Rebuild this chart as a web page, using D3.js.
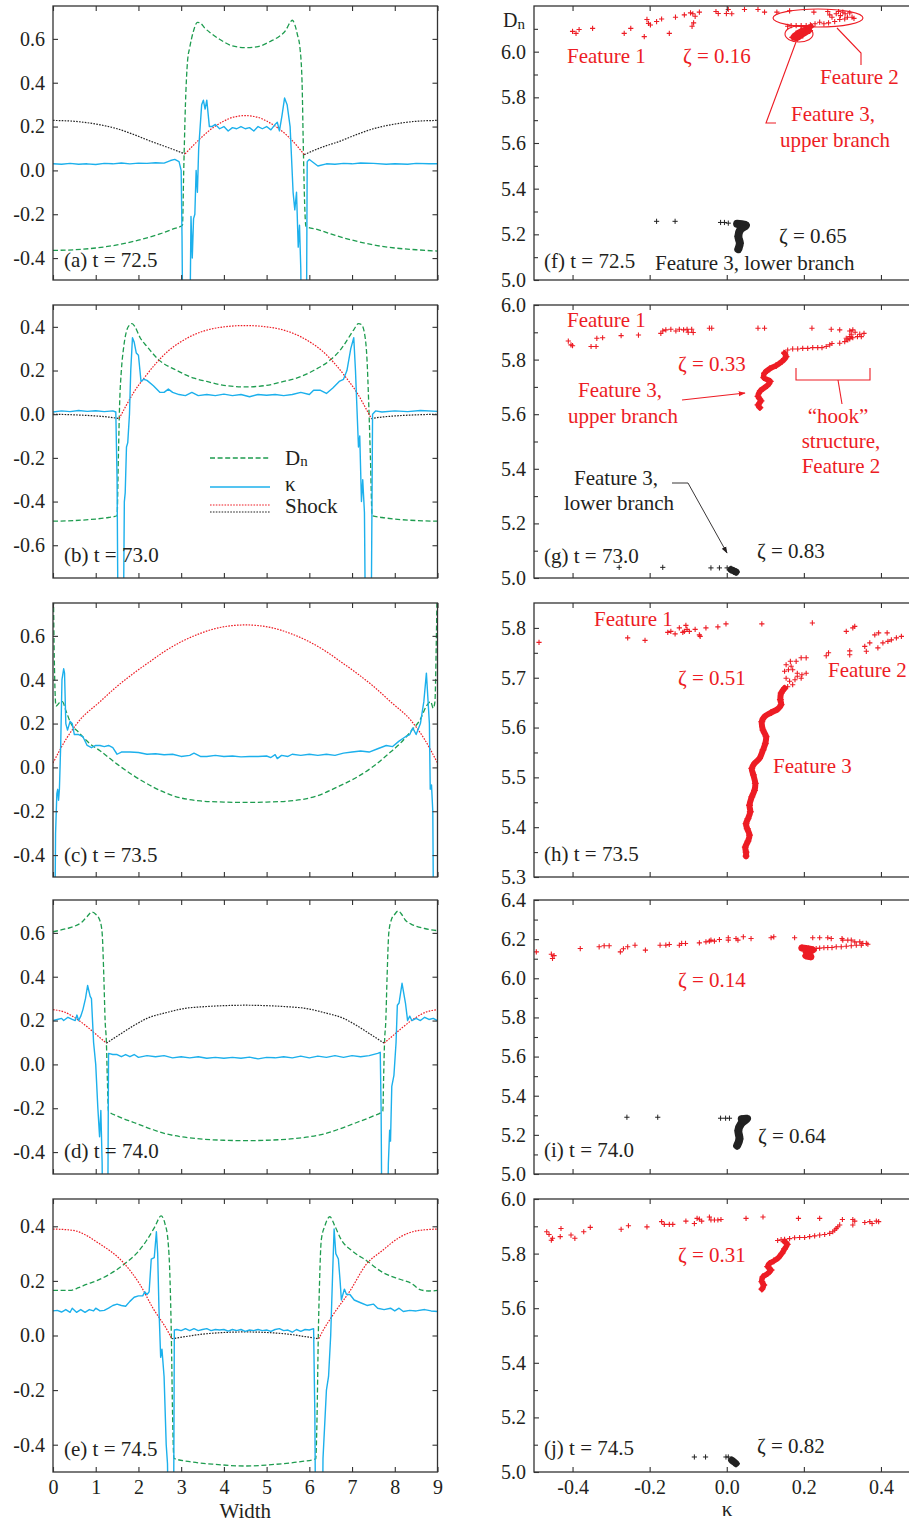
<!DOCTYPE html>
<html>
<head>
<meta charset="utf-8">
<script src="https://cdn.jsdelivr.net/npm/d3@7"></script>
<style>
  body { margin: 0; background: #fff; }
  svg { display: block; }
</style>
</head>
<body>
<svg id="fig" width="909" height="1525"></svg>
<script>
// ---------------------------------------------------------------
// Axis ticks
// ---------------------------------------------------------------
const widthTicks = [0, 1, 2, 3, 4, 5, 6, 7, 8, 9];
const kappaTicks = [-0.4, -0.2, 0.0, 0.2, 0.4];
const yTicksA = [-0.4, -0.2, 0.0, 0.2, 0.4, 0.6];
const yTicksB = [-0.6, -0.4, -0.2, 0.0, 0.2, 0.4];
const yTicksC = [-0.4, -0.2, 0.0, 0.2, 0.4, 0.6];
const yTicksD = [-0.4, -0.2, 0.0, 0.2, 0.4, 0.6];
const yTicksE = [-0.4, -0.2, 0.0, 0.2, 0.4];
const dnTicksF = [5.0, 5.2, 5.4, 5.6, 5.8, 6.0];
const dnMinorF = [5.1, 5.3, 5.5, 5.7, 5.9, 6.1];
const dnTicksG = [5.0, 5.2, 5.4, 5.6, 5.8, 6.0];
const dnMinorG = [5.1, 5.3, 5.5, 5.7, 5.9];
const dnTicksH = [5.3, 5.4, 5.5, 5.6, 5.7, 5.8];
const dnMinorH = [5.35, 5.45, 5.55, 5.65, 5.75];
const dnTicksI = [5.0, 5.2, 5.4, 5.6, 5.8, 6.0, 6.2, 6.4];
const dnMinorI = [5.1, 5.3, 5.5, 5.7, 5.9, 6.1, 6.3];
const dnTicksJ = [5.0, 5.2, 5.4, 5.6, 5.8, 6.0];
const dnMinorJ = [5.1, 5.3, 5.5, 5.7, 5.9];

// ---------------------------------------------------------------
// Profiles across the channel width: [width, value]
// ---------------------------------------------------------------
// (a) t = 72.5
const dnA = [[0,-0.365],[0.5,-0.362],[1,-0.354],[1.5,-0.34],[2,-0.318],[2.5,-0.29],[2.8,-0.268],[3.03,-0.25],[3.06,0.0],[3.1,0.3],[3.15,0.5],[3.2,0.56],[3.28,0.63],[3.38,0.675],[3.45,0.672],[3.55,0.65],[3.7,0.625],[3.9,0.598],[4.2,0.568],[4.5,0.56],[4.8,0.565],[5.1,0.59],[5.3,0.612],[5.45,0.64],[5.55,0.675],[5.6,0.685],[5.66,0.665],[5.72,0.62],[5.78,0.56],[5.83,0.4],[5.86,0.1],[5.89,-0.15],[5.92,-0.255],[6.2,-0.27],[6.5,-0.29],[7,-0.318],[7.5,-0.34],[8,-0.354],[8.5,-0.362],[9,-0.368]];
const kappaA = [[0,0.03],[0.2,0.028],[0.4,0.032],[0.6,0.028],[0.8,0.03],[1.0,0.027],[1.2,0.032],[1.4,0.03],[1.6,0.034],[1.8,0.03],[2.0,0.033],[2.2,0.032],[2.4,0.035],[2.6,0.033],[2.75,0.045],[2.85,0.05],[2.95,0.04],[3.0,0.0],[3.02,-0.3],[3.04,-0.8],[3.2,-0.8],[3.23,-0.21],[3.26,-0.4],[3.29,-0.22],[3.32,-0.2],[3.35,0.0],[3.38,-0.1],[3.41,0.1],[3.48,0.3],[3.52,0.32],[3.56,0.28],[3.6,0.32],[3.66,0.2],[3.72,0.2],[3.8,0.21],[3.9,0.19],[4.0,0.2],[4.1,0.18],[4.2,0.195],[4.3,0.19],[4.4,0.2],[4.5,0.19],[4.6,0.195],[4.7,0.18],[4.8,0.2],[4.9,0.19],[5.0,0.2],[5.1,0.185],[5.2,0.21],[5.25,0.22],[5.3,0.18],[5.36,0.25],[5.42,0.33],[5.48,0.3],[5.55,0.2],[5.62,-0.1],[5.66,-0.18],[5.7,-0.1],[5.74,-0.35],[5.77,-0.25],[5.8,-0.45],[5.82,-0.8],[5.93,-0.8],[5.95,0.04],[6.0,0.05],[6.1,0.035],[6.2,0.02],[6.4,0.03],[6.6,0.028],[6.8,0.032],[7.0,0.03],[7.2,0.034],[7.5,0.032],[7.8,0.028],[8.0,0.03],[8.3,0.028],[8.5,0.032],[8.8,0.03],[9,0.03]];
const shockRedA = [[[3.09,0.075],[3.44,0.144],[3.76,0.197],[4.0,0.225],[4.22,0.243],[4.5,0.25],[4.78,0.243],[5.0,0.225],[5.24,0.197],[5.56,0.144],[5.88,0.072]]];
const shockBlackA = [
  [[0,0.228],[0.5,0.224],[1.1,0.208],[1.5,0.19],[1.9,0.163],[2.3,0.132],[2.67,0.106],[3.09,0.075]],
  [[5.88,0.072],[6.3,0.106],[6.7,0.132],[7.1,0.163],[7.5,0.19],[7.9,0.208],[8.5,0.224],[9,0.228]]
];

// (b) t = 73.0
const dnB = [[0,-0.49],[0.5,-0.487],[1,-0.48],[1.3,-0.473],[1.5,-0.465],[1.53,-0.2],[1.56,0.05],[1.6,0.2],[1.65,0.3],[1.72,0.38],[1.8,0.41],[1.85,0.415],[1.92,0.4],[2.04,0.35],[2.2,0.31],[2.47,0.25],[2.9,0.2],[3.3,0.165],[3.6,0.15],[4.0,0.132],[4.5,0.125],[5.0,0.132],[5.4,0.15],[5.7,0.165],[6.1,0.2],[6.5,0.25],[6.75,0.3],[6.92,0.35],[7.05,0.39],[7.15,0.415],[7.22,0.41],[7.3,0.36],[7.35,0.25],[7.39,0.05],[7.43,-0.2],[7.47,-0.465],[7.7,-0.473],[8,-0.48],[8.5,-0.487],[9,-0.49]];
const kappaB = [[0,0.01],[0.2,0.015],[0.4,0.012],[0.6,0.017],[0.8,0.013],[1.0,0.016],[1.2,0.012],[1.4,0.015],[1.47,0.01],[1.5,-0.3],[1.52,-0.9],[1.65,-0.9],[1.67,-0.4],[1.69,-0.36],[1.72,-0.15],[1.75,-0.13],[1.79,0.0],[1.82,0.2],[1.86,0.35],[1.9,0.33],[1.95,0.28],[2.0,0.27],[2.06,0.15],[2.12,0.16],[2.2,0.155],[2.35,0.13],[2.5,0.1],[2.6,0.1],[2.7,0.115],[2.8,0.1],[2.95,0.09],[3.1,0.085],[3.25,0.1],[3.4,0.085],[3.6,0.09],[3.8,0.085],[4.0,0.092],[4.2,0.085],[4.4,0.09],[4.6,0.08],[4.8,0.09],[5.0,0.087],[5.2,0.09],[5.4,0.085],[5.6,0.09],[5.8,0.1],[6.0,0.09],[6.1,0.11],[6.25,0.11],[6.4,0.095],[6.55,0.12],[6.7,0.15],[6.8,0.16],[6.88,0.2],[6.97,0.3],[7.04,0.35],[7.08,0.2],[7.12,0.0],[7.15,-0.15],[7.18,-0.1],[7.22,-0.4],[7.25,-0.3],[7.29,-0.45],[7.31,-0.9],[7.45,-0.9],[7.48,0.0],[7.55,0.015],[7.7,0.01],[8.0,0.015],[8.3,0.012],[8.6,0.017],[9,0.013]];
const shockRedB = [[[1.55,-0.02],[1.7,0.035],[1.89,0.1],[2.15,0.17],[2.43,0.237],[2.7,0.29],[2.98,0.33],[3.44,0.375],[3.83,0.395],[4.5,0.406],[5.17,0.395],[5.56,0.375],[6.02,0.33],[6.3,0.29],[6.57,0.237],[6.85,0.17],[7.11,0.1],[7.3,0.035],[7.45,-0.02]]];
const shockBlackB = [
  [[0,0.0],[0.5,-0.003],[1.0,-0.008],[1.3,-0.013],[1.55,-0.02]],
  [[7.45,-0.02],[7.7,-0.013],[8.0,-0.008],[8.5,-0.003],[9,0.0]]
];

// (c) t = 73.5
const dnC = [[0.01,0.8],[0.03,0.5],[0.07,0.28],[0.15,0.295],[0.22,0.3],[0.3,0.26],[0.42,0.2],[0.6,0.16],[0.87,0.107],[1.1,0.076],[1.5,0.015],[1.89,-0.038],[2.35,-0.09],[2.82,-0.13],[3.45,-0.153],[4.0,-0.158],[4.5,-0.16],[5.0,-0.158],[5.55,-0.153],[6.18,-0.13],[6.65,-0.09],[7.11,-0.045],[7.5,0.005],[7.9,0.07],[8.13,0.11],[8.4,0.17],[8.6,0.22],[8.74,0.28],[8.84,0.3],[8.9,0.27],[8.94,0.3],[8.97,0.55],[8.99,0.8]];
const kappaC = [[0.04,-0.8],[0.06,-0.3],[0.09,-0.12],[0.11,-0.1],[0.13,-0.15],[0.15,-0.1],[0.18,0.1],[0.21,0.4],[0.25,0.45],[0.27,0.43],[0.3,0.2],[0.34,0.17],[0.4,0.21],[0.45,0.2],[0.5,0.15],[0.6,0.15],[0.7,0.14],[0.8,0.1],[0.9,0.09],[1.0,0.1],[1.1,0.1],[1.2,0.095],[1.3,0.1],[1.4,0.09],[1.5,0.06],[1.6,0.07],[1.8,0.07],[2.0,0.068],[2.2,0.06],[2.4,0.062],[2.6,0.058],[2.8,0.06],[3.0,0.05],[3.2,0.055],[3.3,0.065],[3.45,0.05],[3.6,0.05],[3.8,0.055],[4.0,0.05],[4.2,0.052],[4.4,0.048],[4.6,0.05],[4.8,0.05],[5.0,0.052],[5.1,0.045],[5.2,0.058],[5.25,0.04],[5.35,0.055],[5.5,0.05],[5.6,0.06],[5.8,0.055],[6.0,0.06],[6.2,0.055],[6.4,0.06],[6.6,0.055],[6.8,0.065],[7.0,0.07],[7.2,0.075],[7.4,0.07],[7.6,0.085],[7.8,0.1],[7.95,0.095],[8.1,0.12],[8.25,0.14],[8.35,0.15],[8.42,0.18],[8.5,0.15],[8.6,0.2],[8.68,0.3],[8.74,0.43],[8.78,0.3],[8.81,0.2],[8.83,-0.1],[8.86,-0.08],[8.89,-0.2],[8.91,-0.8]];
const shockRedC = [[[0,0.02],[0.31,0.13],[0.62,0.214],[1.09,0.298],[1.5,0.37],[1.87,0.427],[2.25,0.48],[2.65,0.534],[3.05,0.578],[3.43,0.61],[3.9,0.638],[4.5,0.65],[5.1,0.638],[5.57,0.61],[5.95,0.578],[6.35,0.534],[6.75,0.48],[7.13,0.427],[7.5,0.37],[7.91,0.298],[8.38,0.214],[8.69,0.13],[9,0.02]]];
const shockBlackC = [];

// (d) t = 74.0
const dnD = [[0,0.605],[0.33,0.62],[0.5,0.63],[0.68,0.65],[0.8,0.675],[0.91,0.695],[1.0,0.685],[1.1,0.655],[1.15,0.6],[1.19,0.4],[1.22,0.2],[1.25,0.1],[1.27,-0.05],[1.3,-0.213],[1.5,-0.235],[1.89,-0.265],[2.3,-0.295],[2.67,-0.318],[3.0,-0.33],[3.44,-0.34],[4.0,-0.346],[4.5,-0.348],[5.0,-0.346],[5.56,-0.34],[6.0,-0.33],[6.33,-0.318],[6.7,-0.295],[7.11,-0.265],[7.5,-0.235],[7.72,-0.213],[7.74,-0.05],[7.76,0.1],[7.79,0.2],[7.82,0.4],[7.86,0.6],[7.92,0.66],[8.0,0.685],[8.08,0.7],[8.16,0.685],[8.24,0.66],[8.38,0.64],[8.51,0.63],[8.7,0.62],[9,0.61]];
const kappaD = [[0,0.2],[0.1,0.205],[0.2,0.21],[0.25,0.2],[0.35,0.215],[0.45,0.205],[0.52,0.2],[0.56,0.225],[0.6,0.2],[0.65,0.22],[0.7,0.25],[0.76,0.3],[0.81,0.36],[0.87,0.31],[0.9,0.3],[0.95,0.1],[1.0,0.0],[1.05,-0.2],[1.09,-0.33],[1.12,-0.21],[1.15,-0.45],[1.17,-0.8],[1.28,-0.8],[1.3,0.05],[1.4,0.045],[1.5,0.045],[1.6,0.035],[1.7,0.045],[1.8,0.035],[1.9,0.045],[2.0,0.032],[2.2,0.04],[2.4,0.035],[2.6,0.04],[2.8,0.03],[3.0,0.035],[3.2,0.03],[3.4,0.035],[3.6,0.028],[3.8,0.032],[4.0,0.028],[4.2,0.032],[4.4,0.028],[4.6,0.033],[4.8,0.025],[5.0,0.032],[5.2,0.03],[5.4,0.035],[5.6,0.03],[5.8,0.038],[6.0,0.03],[6.2,0.038],[6.4,0.032],[6.6,0.04],[6.8,0.032],[7.0,0.04],[7.2,0.035],[7.4,0.04],[7.6,0.05],[7.66,0.055],[7.68,-0.2],[7.7,-0.8],[7.82,-0.8],[7.85,-0.45],[7.88,-0.3],[7.9,-0.35],[7.93,-0.1],[7.98,-0.05],[8.03,0.1],[8.06,0.27],[8.1,0.28],[8.17,0.37],[8.25,0.28],[8.3,0.2],[8.35,0.22],[8.4,0.2],[8.5,0.21],[8.6,0.2],[8.7,0.215],[8.8,0.205],[8.9,0.21],[9,0.2]];
const shockRedD = [
  [[0,0.25],[0.25,0.24],[0.56,0.207],[0.81,0.17],[1.05,0.13],[1.25,0.097]],
  [[7.75,0.097],[7.95,0.13],[8.19,0.17],[8.44,0.207],[8.75,0.24],[9,0.25]]
];
const shockBlackD = [[[1.25,0.097],[1.55,0.135],[1.89,0.177],[2.2,0.21],[2.67,0.237],[3.1,0.256],[3.44,0.262],[4.0,0.268],[4.5,0.27],[5.0,0.268],[5.56,0.262],[5.9,0.256],[6.33,0.237],[6.8,0.21],[7.11,0.177],[7.45,0.135],[7.75,0.097]]];

// (e) t = 74.5
const dnE = [[0,0.165],[0.39,0.165],[0.6,0.175],[0.78,0.187],[1.01,0.2],[1.33,0.225],[1.72,0.268],[1.95,0.3],[2.19,0.348],[2.38,0.397],[2.53,0.438],[2.62,0.41],[2.69,0.35],[2.74,0.2],[2.77,0.0],[2.8,-0.3],[2.83,-0.45],[3.2,-0.462],[3.8,-0.472],[4.5,-0.478],[5.2,-0.472],[5.8,-0.462],[6.15,-0.452],[6.18,-0.3],[6.21,0.0],[6.24,0.2],[6.28,0.35],[6.36,0.4],[6.48,0.435],[6.6,0.4],[6.75,0.35],[7.0,0.31],[7.34,0.274],[7.73,0.23],[8.12,0.206],[8.4,0.19],[8.59,0.168],[8.8,0.163],[9,0.165]];
const kappaE = [[0,0.09],[0.1,0.092],[0.2,0.086],[0.3,0.095],[0.4,0.085],[0.45,0.1],[0.55,0.085],[0.65,0.095],[0.75,0.085],[0.85,0.095],[0.95,0.09],[1.0,0.1],[1.1,0.09],[1.2,0.092],[1.3,0.1],[1.4,0.11],[1.5,0.115],[1.6,0.11],[1.7,0.107],[1.8,0.125],[1.9,0.14],[2.0,0.145],[2.1,0.145],[2.15,0.16],[2.2,0.15],[2.25,0.16],[2.3,0.28],[2.37,0.285],[2.42,0.38],[2.45,0.3],[2.48,0.1],[2.52,-0.08],[2.55,-0.05],[2.6,-0.15],[2.65,-0.4],[2.68,-0.47],[2.71,-0.8],[2.82,-0.8],[2.84,0.02],[2.9,0.022],[3.0,0.018],[3.1,0.025],[3.2,0.018],[3.3,0.025],[3.4,0.018],[3.5,0.022],[3.6,0.025],[3.7,0.018],[3.8,0.022],[3.9,0.02],[4.0,0.022],[4.1,0.016],[4.2,0.022],[4.3,0.018],[4.4,0.022],[4.5,0.015],[4.6,0.02],[4.7,0.018],[4.8,0.022],[4.9,0.018],[5.0,0.02],[5.1,0.015],[5.2,0.022],[5.3,0.025],[5.4,0.018],[5.5,0.02],[5.6,0.012],[5.7,0.022],[5.8,0.015],[5.9,0.022],[6.0,0.02],[6.1,0.025],[6.13,-0.3],[6.15,-0.8],[6.3,-0.8],[6.32,-0.45],[6.4,-0.2],[6.45,-0.15],[6.5,0.0],[6.55,0.25],[6.58,0.39],[6.62,0.3],[6.68,0.28],[6.72,0.2],[6.75,0.13],[6.82,0.17],[6.87,0.15],[6.95,0.15],[7.05,0.13],[7.2,0.12],[7.35,0.11],[7.5,0.115],[7.6,0.1],[7.75,0.095],[7.9,0.1],[8.0,0.09],[8.1,0.1],[8.2,0.088],[8.35,0.092],[8.5,0.09],[8.7,0.095],[8.85,0.09],[9,0.088]];
const shockRedE = [
  [[0,0.39],[0.47,0.385],[1.09,0.336],[1.64,0.268],[2.03,0.188],[2.34,0.1],[2.69,0.015],[2.78,-0.012]],
  [[6.22,-0.012],[6.31,0.015],[6.56,0.077],[6.95,0.163],[7.34,0.262],[7.7,0.31],[8.12,0.36],[8.5,0.383],[9,0.39]]
];
const shockBlackE = [[[2.78,-0.012],[3.1,-0.004],[3.5,0.005],[4.0,0.011],[4.5,0.013],[5.0,0.011],[5.5,0.005],[5.9,-0.004],[6.22,-0.012]]];

// ---------------------------------------------------------------
// Scatter of normal detonation speed against curvature: [kappa, Dn]
// ---------------------------------------------------------------
// (f) t = 72.5
const redPtsF = [[-0.400,6.089],[-0.391,6.080],[-0.383,6.097],[-0.348,6.102],[-0.266,6.080],[-0.249,6.102],[-0.214,6.066],[-0.207,6.141],[-0.203,6.124],[-0.198,6.117],[-0.182,6.132],[-0.169,6.143],[-0.149,6.080],[-0.133,6.151],[-0.110,6.161],[-0.094,6.170],[-0.088,6.166],[-0.082,6.155],[-0.086,6.126],[-0.090,6.111],[-0.071,6.173],[-0.028,6.176],[-0.022,6.167],[-0.001,6.167],[0.004,6.185],[0.013,6.166],[0.046,6.185],[0.081,6.185],[0.098,6.173],[0.130,6.173],[0.163,6.179],[0.226,6.173],[0.262,6.176],[0.267,6.161],[0.273,6.151],[0.284,6.166],[0.290,6.176],[0.295,6.158],[0.301,6.173],[0.307,6.166],[0.313,6.151],[0.319,6.170],[0.325,6.151],[0.330,6.146],[0.306,6.143],[0.293,6.141],[0.280,6.132],[0.264,6.126],[0.252,6.122],[0.241,6.129],[0.229,6.122],[0.217,6.117],[0.206,6.114],[0.193,6.114],[0.180,6.114],[0.167,6.114],[0.158,6.111]];
const redTrackF = [[[0.219,6.111],[0.206,6.100],[0.193,6.092],[0.180,6.078],[0.171,6.063],[0.183,6.058],[0.197,6.073],[0.215,6.092]]];
const blackPtsF = [[-0.182,5.257],[-0.134,5.257],[-0.016,5.252],[-0.006,5.252],[0.004,5.249]];
const blackTrackF = [[[0.027,5.246],[0.050,5.240],[0.035,5.220],[0.030,5.191],[0.034,5.161],[0.030,5.135]]];

// (g) t = 73.0
const redPtsG = [[-0.411,5.868],[-0.404,5.854],[-0.400,5.851],[-0.352,5.848],[-0.339,5.848],[-0.337,5.878],[-0.322,5.880],[-0.274,5.888],[-0.229,5.890],[-0.171,5.896],[-0.166,5.905],[-0.158,5.909],[-0.145,5.911],[-0.132,5.905],[-0.123,5.911],[-0.112,5.909],[-0.103,5.911],[-0.100,5.900],[-0.091,5.911],[-0.087,5.899],[-0.045,5.915],[-0.039,5.915],[0.081,5.915],[0.098,5.915],[0.221,5.915],[0.271,5.911],[0.293,5.909],[0.319,5.905],[0.327,5.909],[0.323,5.893],[0.333,5.900],[0.339,5.884],[0.319,5.884],[0.314,5.872],[0.310,5.878],[0.345,5.893],[0.356,5.896],[0.349,5.884],
  [0.148,5.827],[0.158,5.835],[0.171,5.839],[0.184,5.839],[0.197,5.841],[0.210,5.841],[0.223,5.844],[0.236,5.844],[0.247,5.844],[0.258,5.848],[0.267,5.854],[0.273,5.859],[0.293,5.860],[0.306,5.866],[0.319,5.876],[0.327,5.880]];
const redTrackG = [[[0.150,5.823],[0.154,5.811],[0.143,5.793],[0.128,5.778],[0.111,5.766],[0.098,5.750],[0.096,5.734],[0.113,5.720],[0.105,5.705],[0.087,5.685],[0.081,5.665],[0.089,5.649],[0.081,5.634],[0.086,5.624]]];
const blackPtsG = [[-0.279,5.039],[-0.166,5.039],[-0.041,5.037],[-0.019,5.037],[0.001,5.037]];
const blackTrackG = [[[0.011,5.031],[0.018,5.026],[0.024,5.022]]];

// (h) t = 73.5
const redPtsH = [[-0.487,5.771],[-0.257,5.780],[-0.212,5.775],[-0.153,5.791],[-0.145,5.793],[-0.134,5.788],[-0.123,5.800],[-0.114,5.791],[-0.110,5.793],[-0.106,5.805],[-0.103,5.797],[-0.097,5.793],[-0.082,5.797],[-0.071,5.786],[-0.069,5.783],[-0.054,5.800],[-0.023,5.802],[-0.002,5.808],[0.091,5.808],[0.222,5.810],[0.310,5.793],[0.327,5.800],[0.332,5.803],[0.319,5.754],[0.319,5.746],[0.258,5.744],[0.264,5.750],[0.358,5.763],[0.362,5.753],[0.371,5.770],[0.384,5.786],[0.394,5.790],[0.392,5.760],[0.405,5.770],[0.418,5.773],[0.427,5.776],[0.440,5.780],[0.453,5.783],[0.416,5.790],
  [0.154,5.726],[0.165,5.733],[0.180,5.733],[0.193,5.740],[0.206,5.740],[0.150,5.713],[0.160,5.716],[0.171,5.716],[0.183,5.709],[0.195,5.706],[0.206,5.709],[0.154,5.699],[0.163,5.693],[0.171,5.686],[0.177,5.696],[0.183,5.703],[0.193,5.699],[0.167,5.723],[0.148,5.679],[0.158,5.682]];
const redTrackH = [[[0.150,5.679],[0.141,5.669],[0.139,5.656],[0.141,5.646],[0.132,5.637],[0.115,5.630],[0.098,5.622],[0.091,5.612],[0.094,5.595],[0.102,5.582],[0.100,5.568],[0.094,5.555],[0.085,5.538],[0.072,5.528],[0.065,5.518],[0.069,5.505],[0.074,5.488],[0.072,5.474],[0.065,5.461],[0.059,5.444],[0.061,5.431],[0.055,5.417],[0.050,5.407],[0.053,5.397],[0.059,5.384],[0.055,5.372],[0.048,5.360],[0.050,5.350],[0.050,5.342]]];
const blackPtsH = [];
const blackTrackH = [];

// (i) t = 74.0
const redPtsI = [[-0.494,6.135],[-0.455,6.123],[-0.452,6.101],[-0.448,6.116],[-0.380,6.152],[-0.331,6.161],[-0.318,6.166],[-0.305,6.166],[-0.276,6.135],[-0.268,6.151],[-0.257,6.161],[-0.238,6.169],[-0.211,6.144],[-0.173,6.169],[-0.158,6.169],[-0.149,6.173],[-0.123,6.169],[-0.117,6.178],[-0.107,6.178],[-0.071,6.181],[-0.054,6.186],[-0.045,6.190],[-0.041,6.195],[-0.032,6.190],[-0.019,6.198],[0.004,6.195],[0.004,6.207],[0.024,6.203],[0.029,6.195],[0.043,6.212],[0.063,6.203],[0.115,6.207],[0.122,6.212],[0.176,6.207],[0.223,6.207],[0.241,6.207],[0.262,6.207],[0.271,6.203],[0.299,6.203],[0.301,6.195],[0.314,6.195],[0.323,6.195],[0.332,6.186],[0.345,6.186],[0.353,6.178],[0.362,6.178],[0.366,6.174],[0.349,6.169],[0.336,6.169],[0.323,6.166],[0.310,6.164],[0.297,6.161],[0.284,6.161],[0.273,6.157],[0.262,6.157],[0.252,6.156],[0.241,6.154],[0.232,6.152],[0.221,6.147]];
const redTrackI = [[[0.195,6.155],[0.212,6.150],[0.224,6.145],[0.206,6.135],[0.214,6.124],[0.205,6.114],[0.218,6.110]]];
const blackPtsI = [[-0.259,5.290],[-0.179,5.290],[-0.016,5.285],[-0.003,5.285],[0.007,5.285]];
const blackTrackI = [[[0.039,5.280],[0.053,5.283],[0.037,5.256],[0.030,5.222],[0.033,5.179],[0.027,5.145]]];

// (j) t = 74.5
const redPtsJ = [[-0.467,5.880],[-0.461,5.870],[-0.455,5.849],[-0.452,5.856],[-0.432,5.862],[-0.430,5.892],[-0.404,5.868],[-0.394,5.856],[-0.371,5.880],[-0.354,5.896],[-0.274,5.889],[-0.255,5.902],[-0.207,5.898],[-0.169,5.917],[-0.162,5.907],[-0.149,5.907],[-0.140,5.907],[-0.106,5.919],[-0.084,5.910],[-0.077,5.929],[-0.071,5.926],[-0.065,5.919],[-0.045,5.934],[-0.041,5.923],[-0.032,5.923],[-0.023,5.923],[-0.015,5.925],[0.050,5.929],[0.094,5.934],[0.186,5.929],[0.241,5.929],[0.300,5.925],[0.327,5.925],[0.332,5.919],[0.327,5.905],[0.358,5.914],[0.371,5.917],[0.377,5.910],[0.388,5.919],[0.394,5.917],
  [0.132,5.848],[0.141,5.851],[0.150,5.852],[0.163,5.855],[0.176,5.858],[0.189,5.859],[0.202,5.859],[0.215,5.862],[0.228,5.865],[0.241,5.868],[0.254,5.870],[0.267,5.874],[0.275,5.880],[0.280,5.886],[0.284,5.892],[0.288,5.898],[0.293,5.905]];
const redTrackJ = [[[0.150,5.844],[0.157,5.834],[0.150,5.817],[0.143,5.801],[0.134,5.785],[0.122,5.773],[0.111,5.764],[0.106,5.752],[0.115,5.740],[0.106,5.727],[0.094,5.715],[0.091,5.697],[0.096,5.685],[0.091,5.670]]];
const blackPtsJ = [[-0.084,5.055],[-0.055,5.055],[-0.002,5.055],[0.004,5.055]];
const blackTrackJ = [[[0.013,5.043],[0.019,5.037],[0.024,5.031]]];

// ---------------------------------------------------------------
// Layout and styles
// ---------------------------------------------------------------
const FONT = "'Liberation Serif', 'Times New Roman', serif";
const INK = "#231f20";
const RED = "#ed1c24";
const GREEN = "#1e9c4f";
const BLUE = "#1cb0ec";
const NOTE_SIZE = 21;

const rows = [
  { top: 6, bottom: 280 },
  { top: 305, bottom: 578 },
  { top: 603, bottom: 877 },
  { top: 900, bottom: 1174 },
  { top: 1199, bottom: 1472 }
];
const LEFT = { x0: 53, x1: 437.5 };
const RIGHT = { x0: 534, x1: 911.8 };

const svg = d3.select("#fig");
const defs = svg.append("defs");

function marker(id, color) {
  defs.append("marker")
    .attr("id", id).attr("viewBox", "0 0 10 10")
    .attr("refX", 9).attr("refY", 5)
    .attr("markerWidth", 7).attr("markerHeight", 7)
    .attr("markerUnits", "userSpaceOnUse")
    .attr("orient", "auto")
    .append("path").attr("d", "M0,1.5L10,5L0,8.5Z").attr("fill", color);
}
marker("arrRed", RED);
marker("arrInk", INK);

const fmt1 = v => (Math.abs(v) < 1e-9 ? "0.0" : v.toFixed(1));

function styleAxis(g) {
  g.select(".domain").remove();
  g.selectAll(".tick line").attr("stroke", "#333").attr("stroke-width", 1.1);
  g.selectAll(".tick text").attr("fill", INK);
  g.attr("font-family", FONT).attr("font-size", 20);
}

let clipId = 0;
function frame(x0, x1, top, bottom) {
  svg.append("rect")
    .attr("x", x0).attr("y", top)
    .attr("width", x1 - x0).attr("height", bottom - top)
    .attr("fill", "none").attr("stroke", "#333").attr("stroke-width", 1.3);
}
function clipGroup(x0, x1, top, bottom) {
  const id = "clip" + (clipId++);
  defs.append("clipPath").attr("id", id)
    .append("rect").attr("x", x0).attr("y", top)
    .attr("width", x1 - x0).attr("height", bottom - top);
  return svg.append("g").attr("clip-path", `url(#${id})`);
}
function text(g, x, y, str, opts = {}) {
  return g.append("text")
    .attr("x", x).attr("y", y)
    .attr("font-family", FONT)
    .attr("font-size", opts.size || NOTE_SIZE)
    .attr("fill", opts.color || INK)
    .attr("text-anchor", opts.anchor || "start")
    .text(str);
}

// ---------------------------------------------------------------
// Left column: profiles across the width
// ---------------------------------------------------------------
const leftPanels = [
  { row: 0, domain: [-0.5, 0.75], ticks: yTicksA, dn: dnA, kappa: kappaA, red: shockRedA, black: shockBlackA, label: "(a) t = 72.5", labelDy: 261 },
  { row: 1, domain: [-0.75, 0.5], ticks: yTicksB, dn: dnB, kappa: kappaB, red: shockRedB, black: shockBlackB, label: "(b) t = 73.0", labelDy: 257 },
  { row: 2, domain: [-0.5, 0.75], ticks: yTicksC, dn: dnC, kappa: kappaC, red: shockRedC, black: shockBlackC, label: "(c) t = 73.5", labelDy: 259 },
  { row: 3, domain: [-0.5, 0.75], ticks: yTicksD, dn: dnD, kappa: kappaD, red: shockRedD, black: shockBlackD, label: "(d) t = 74.0", labelDy: 258 },
  { row: 4, domain: [-0.5, 0.5], ticks: yTicksE, dn: dnE, kappa: kappaE, red: shockRedE, black: shockBlackE, label: "(e) t = 74.5", labelDy: 257, xLabels: true }
];

leftPanels.forEach(p => {
  const r = rows[p.row];
  const x = d3.scaleLinear().domain([0, 9]).range([LEFT.x0, LEFT.x1]);
  const y = d3.scaleLinear().domain(p.domain).range([r.bottom, r.top]);
  const line = d3.line().x(d => x(d[0])).y(d => y(d[1]));
  const smooth = d3.line().x(d => x(d[0])).y(d => y(d[1])).curve(d3.curveMonotoneX);

  const g = clipGroup(LEFT.x0, LEFT.x1, r.top, r.bottom);
  g.append("path").attr("d", smooth(p.dn))
    .attr("fill", "none").attr("stroke", GREEN).attr("stroke-width", 1.3)
    .attr("stroke-dasharray", "5,2.6");
  p.black.forEach(seg => g.append("path").attr("d", smooth(seg))
    .attr("fill", "none").attr("stroke", "#222").attr("stroke-width", 1.2)
    .attr("stroke-dasharray", "1.6,1.3"));
  p.red.forEach(seg => g.append("path").attr("d", smooth(seg))
    .attr("fill", "none").attr("stroke", RED).attr("stroke-width", 1.2)
    .attr("stroke-dasharray", "1.6,1.3"));
  g.append("path").attr("d", line(p.kappa))
    .attr("fill", "none").attr("stroke", BLUE).attr("stroke-width", 1.4)
    .attr("stroke-linejoin", "round");

  frame(LEFT.x0, LEFT.x1, r.top, r.bottom);

  svg.append("g").attr("transform", `translate(${LEFT.x0},0)`)
    .call(d3.axisLeft(y).tickValues(p.ticks).tickSize(-5).tickPadding(8).tickFormat(fmt1))
    .call(styleAxis);
  svg.append("g").attr("transform", `translate(${LEFT.x1},0)`)
    .call(d3.axisRight(y).tickValues(p.ticks).tickSize(-5).tickFormat(""))
    .call(styleAxis);
  svg.append("g").attr("transform", `translate(0,${r.top})`)
    .call(d3.axisTop(x).tickValues(widthTicks).tickSize(-5).tickFormat(""))
    .call(styleAxis);
  svg.append("g").attr("transform", `translate(0,${r.bottom})`)
    .call(d3.axisBottom(x).tickValues(widthTicks).tickSize(-5).tickPadding(8)
      .tickFormat(p.xLabels ? d3.format("d") : ""))
    .call(styleAxis);

  text(svg, LEFT.x0 + 11, r.top + p.labelDy, p.label);
});

// legend inside panel (b)
(function legend() {
  const r = rows[1];
  const lx0 = LEFT.x0 + 157, lx1 = LEFT.x0 + 217, tx = LEFT.x0 + 232;
  const g = svg.append("g");
  g.append("line").attr("x1", lx0).attr("x2", lx1).attr("y1", r.top + 153).attr("y2", r.top + 153)
    .attr("stroke", GREEN).attr("stroke-width", 1.3).attr("stroke-dasharray", "5,2.6");
  g.append("line").attr("x1", lx0).attr("x2", lx1).attr("y1", r.top + 182).attr("y2", r.top + 182)
    .attr("stroke", BLUE).attr("stroke-width", 1.4);
  g.append("line").attr("x1", lx0).attr("x2", lx1).attr("y1", r.top + 200).attr("y2", r.top + 200)
    .attr("stroke", RED).attr("stroke-width", 1.2).attr("stroke-dasharray", "1.6,1.3");
  g.append("line").attr("x1", lx0).attr("x2", lx1).attr("y1", r.top + 207).attr("y2", r.top + 207)
    .attr("stroke", "#222").attr("stroke-width", 1.2).attr("stroke-dasharray", "1.6,1.3");
  const t = text(g, tx, r.top + 160, "D");
  t.append("tspan").attr("font-size", 15).attr("dy", 1).text("n");
  text(g, tx, r.top + 186, "κ");
  text(g, tx, r.top + 208, "Shock");
})();

// x-axis title
text(svg, (LEFT.x0 + LEFT.x1) / 2, 1518, "Width", { anchor: "middle" });

// ---------------------------------------------------------------
// Right column: Dn against curvature
// ---------------------------------------------------------------
const kappaDomain = [-0.5, 0.48];

const rightPanels = [
  { row: 0, domain: [5.0, 6.2], ticks: dnTicksF, minor: dnMinorF, red: redPtsF, redTrack: redTrackF, black: blackPtsF, blackTrack: blackTrackF, label: "(f) t = 72.5", labelDy: 262, trackW: 5, blackW: 8,
    notes: [
      { t: "Feature 1", x: 33, y: 57, c: RED },
      { t: "ζ = 0.16", x: 149, y: 57, c: RED },
      { t: "Feature 2", x: 286, y: 78, c: RED },
      { t: "Feature 3,", x: 299, y: 115, c: RED, a: "middle" },
      { t: "upper branch", x: 301, y: 141, c: RED, a: "middle" },
      { t: "ζ = 0.65", x: 245, y: 237, c: INK },
      { t: "Feature 3, lower branch", x: 121, y: 264, c: INK }
    ],
    ellipses: [ { cx: 284, cy: 12, rx: 45, ry: 9 }, { cx: 265, cy: 28, rx: 14, ry: 8 } ],
    lines: [
      { pts: [[303, 22], [327, 47], [327, 59]], c: RED },
      { pts: [[262, 36], [232, 117], [242, 117]], c: RED }
    ] },
  { row: 1, domain: [5.0, 6.0], ticks: dnTicksG, minor: dnMinorG, red: redPtsG, redTrack: redTrackG, black: blackPtsG, blackTrack: blackTrackG, label: "(g) t = 73.0", labelDy: 258, trackW: 5.5, blackW: 7,
    notes: [
      { t: "Feature 1", x: 33, y: 22, c: RED },
      { t: "ζ = 0.33", x: 144, y: 66, c: RED },
      { t: "Feature 3,", x: 86, y: 92, c: RED, a: "middle" },
      { t: "upper branch", x: 89, y: 118, c: RED, a: "middle" },
      { t: "\u201chook\u201d", x: 304, y: 118, c: RED, a: "middle" },
      { t: "structure,", x: 307, y: 143, c: RED, a: "middle" },
      { t: "Feature 2", x: 307, y: 168, c: RED, a: "middle" },
      { t: "Feature 3,", x: 82, y: 180, c: INK, a: "middle" },
      { t: "lower branch", x: 85, y: 205, c: INK, a: "middle" },
      { t: "ζ = 0.83", x: 223, y: 253, c: INK }
    ],
    ellipses: [],
    lines: [
      { pts: [[148, 95], [211, 88]], c: RED, arrow: "arrRed" },
      { pts: [[262, 63], [262, 75], [336, 75], [336, 63]], c: RED },
      { pts: [[304, 75], [308, 99]], c: RED },
      { pts: [[138, 178], [154, 178], [193, 248]], c: INK, arrow: "arrInk", w: 0.9 }
    ] },
  { row: 2, domain: [5.3, 5.85], ticks: dnTicksH, minor: dnMinorH, red: redPtsH, redTrack: redTrackH, black: blackPtsH, blackTrack: blackTrackH, label: "(h) t = 73.5", labelDy: 258, trackW: 6, blackW: 6,
    notes: [
      { t: "Feature 1", x: 60, y: 23, c: RED },
      { t: "ζ = 0.51", x: 144, y: 82, c: RED },
      { t: "Feature 2", x: 294, y: 74, c: RED },
      { t: "Feature 3", x: 239, y: 170, c: RED }
    ],
    ellipses: [], lines: [] },
  { row: 3, domain: [5.0, 6.4], ticks: dnTicksI, minor: dnMinorI, red: redPtsI, redTrack: redTrackI, black: blackPtsI, blackTrack: blackTrackI, label: "(i) t = 74.0", labelDy: 257, trackW: 7, blackW: 8,
    notes: [
      { t: "ζ = 0.14", x: 144, y: 87, c: RED },
      { t: "ζ = 0.64", x: 224, y: 243, c: INK }
    ],
    ellipses: [], lines: [] },
  { row: 4, domain: [5.0, 6.0], ticks: dnTicksJ, minor: dnMinorJ, red: redPtsJ, redTrack: redTrackJ, black: blackPtsJ, blackTrack: blackTrackJ, label: "(j) t = 74.5", labelDy: 256, xLabels: true, trackW: 5.5, blackW: 7,
    notes: [
      { t: "ζ = 0.31", x: 144, y: 63, c: RED },
      { t: "ζ = 0.82", x: 223, y: 254, c: INK }
    ],
    ellipses: [], lines: [] }
];

const crossPath = (px, py, s) => `M${px - s},${py}H${px + s}M${px},${py - s}V${py + s}`;

rightPanels.forEach(p => {
  const r = rows[p.row];
  const x = d3.scaleLinear().domain(kappaDomain).range([RIGHT.x0, RIGHT.x1]);
  const y = d3.scaleLinear().domain(p.domain).range([r.bottom, r.top]);
  const line = d3.line().x(d => x(d[0])).y(d => y(d[1])).curve(d3.curveCatmullRom);

  const g = clipGroup(RIGHT.x0, RIGHT.x1, r.top, r.bottom);

  // thick clusters of closely spaced points
  p.redTrack.forEach(tr => {
    g.append("path").attr("d", line(tr)).attr("fill", "none")
      .attr("stroke", RED).attr("stroke-width", p.trackW).attr("stroke-linecap", "round").attr("stroke-linejoin", "round");
    g.append("path").attr("d", tr.map(d => crossPath(x(d[0]), y(d[1]), 3.4)).join(""))
      .attr("stroke", RED).attr("stroke-width", 1.3);
  });
  p.blackTrack.forEach(tr => {
    g.append("path").attr("d", line(tr)).attr("fill", "none")
      .attr("stroke", "#222").attr("stroke-width", p.blackW).attr("stroke-linecap", "round").attr("stroke-linejoin", "round");
    g.append("path").attr("d", tr.map(d => crossPath(x(d[0]), y(d[1]), 3.8)).join(""))
      .attr("stroke", "#222").attr("stroke-width", 1.3);
  });

  g.append("path").attr("d", p.red.map(d => crossPath(x(d[0]), y(d[1]), 2.6)).join(""))
    .attr("stroke", RED).attr("stroke-width", 1.1);
  if (p.black.length)
    g.append("path").attr("d", p.black.map(d => crossPath(x(d[0]), y(d[1]), 2.6)).join(""))
      .attr("stroke", "#222").attr("stroke-width", 1.0);

  frame(RIGHT.x0, RIGHT.x1, r.top, r.bottom);

  svg.append("g").attr("transform", `translate(${RIGHT.x0},0)`)
    .call(d3.axisLeft(y).tickValues(p.ticks).tickSize(-5).tickPadding(8).tickFormat(fmt1))
    .call(styleAxis);
  svg.append("g").attr("transform", `translate(${RIGHT.x0},0)`)
    .call(d3.axisLeft(y).tickValues(p.minor).tickSize(-4).tickFormat(""))
    .call(styleAxis);
  svg.append("g").attr("transform", `translate(0,${r.top})`)
    .call(d3.axisTop(x).tickValues(kappaTicks).tickSize(-5).tickFormat(""))
    .call(styleAxis);
  svg.append("g").attr("transform", `translate(0,${r.bottom})`)
    .call(d3.axisBottom(x).tickValues(kappaTicks).tickSize(-5).tickPadding(8)
      .tickFormat(p.xLabels ? fmt1 : ""))
    .call(styleAxis);

  // annotations
  const a = svg.append("g").attr("transform", `translate(${RIGHT.x0},${r.top})`);
  p.ellipses.forEach(e => a.append("ellipse")
    .attr("cx", e.cx).attr("cy", e.cy).attr("rx", e.rx).attr("ry", e.ry)
    .attr("fill", "none").attr("stroke", RED).attr("stroke-width", 1.1));
  p.lines.forEach(l => {
    const pth = a.append("path").attr("d", d3.line()(l.pts))
      .attr("fill", "none").attr("stroke", l.c).attr("stroke-width", l.w || 1.1);
    if (l.arrow) pth.attr("marker-end", `url(#${l.arrow})`);
  });
  p.notes.forEach(n => text(a, n.x, n.y, n.t, { color: n.c, anchor: n.a }));
  text(a, 10, p.labelDy, p.label);
});

// Dn label at the top of the first scatter axis
(function dnTitle() {
  const t = text(svg, 503, 27, "D", { size: 20 });
  t.append("tspan").attr("font-size", 15).attr("dy", 2).text("n");
})();

// curvature axis title
text(svg, 727, 1516, "κ", { anchor: "middle" });
</script>
</body>
</html>
